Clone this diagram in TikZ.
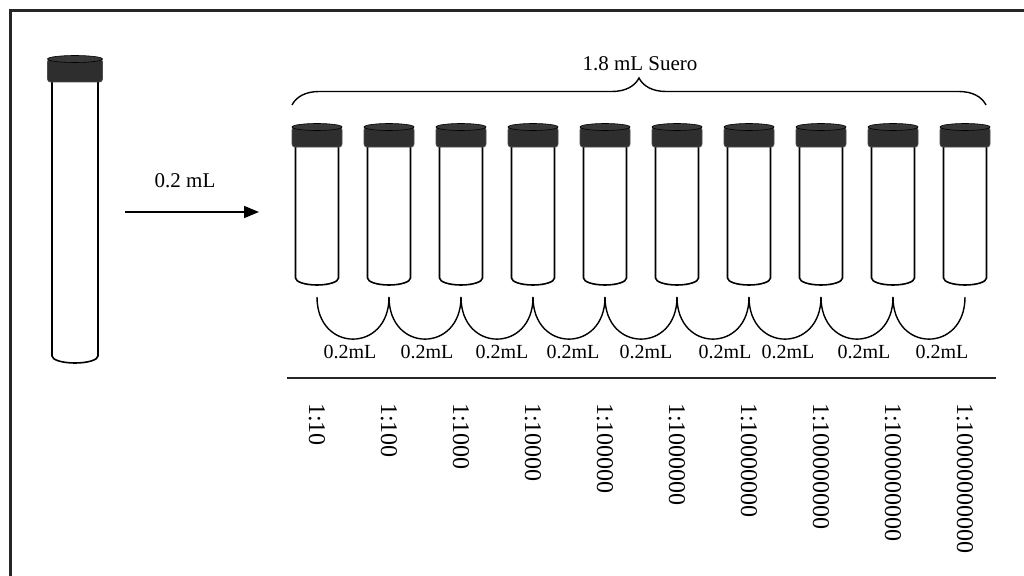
\documentclass[tikz,border=0pt]{standalone}
\usepackage{fontspec}
\setmainfont{Liberation Serif}
\usetikzlibrary{arrows.meta,decorations.pathreplacing}

\tikzset{
  frame/.style={draw=black!85, line width=3pt},
  tubebody/.style={draw=black, line width=1.6pt, fill=white},
  capbody/.style={draw=black!70, line width=0.8pt, fill=black!82, rounded corners=3pt},
  captop/.style={draw=black, line width=0.6pt, fill=black!78},
  scoop/.style={draw=black, line width=1.4pt},
  rule/.style={draw=black!85, line width=2.2pt},
  feed/.style={draw=black, line width=1.6pt, -{Triangle[length=15pt,width=12pt]}},
  bracket/.style={draw=black, line width=1.4pt, decorate,
    decoration={brace, amplitude=27pt, aspect=0.5}},
  steplab/.style={font=\fontsize{20}{24}\selectfont, inner sep=0pt},
  headlab/.style={font=\fontsize{21}{25}\selectfont, inner sep=0pt},
  ratiolab/.style={font=\fontsize{24}{28}\selectfont, inner sep=0pt, rotate=-90, anchor=west},
}

% #1 name, #2 centre x, #3 cap top, #4 cap bottom, #5 cap half width,
% #6 body half width, #7 bottom of the rounded end
\newcommand{\testtube}[7]{%
  \coordinate (#1) at (#2,-#3);
  \coordinate (#1-b) at (#2,-#7);
  \path[tubebody] (#2-#6,-#4+2) -- (#2-#6,-#7+7)
    arc[start angle=180, end angle=360, x radius=#6, y radius=7]
    -- (#2+#6,-#4+2);
  \path[capbody] (#2-#5,-#3-4) rectangle (#2+#5,-#4);
  \path[captop] (#2,-#3-4) ellipse[x radius=#5, y radius=3.5];
}

\begin{document}
\begin{tikzpicture}[x=1pt, y=1pt]
  \clip (0,0) rectangle (1024,-575);
  \fill[white] (0,0) rectangle (1024,-575);

  % outer frame, running off the right and bottom edges
  \draw[frame] (10,-600) -- (10,-10.5) -- (1040,-10.5);

  % stock tube
  \testtube{stock}{75}{55}{82}{27.5}{23}{363}

  % transfer arrow into the dilution series
  \coordinate (a0) at (125,-212);
  \coordinate (a1) at (259,-212);
  \draw[feed] (a0) -- (a1);
  \node[headlab] (vol) at (185,-181) {0.2 mL};

  % ten dilution tubes
  \foreach \i in {1,...,10}{
    \pgfmathsetmacro{\cx}{317+72*(\i-1)}
    \testtube{t\i}{\cx}{123}{147}{25}{21.5}{285}
    \coordinate (s\i) at (\cx,-297);
  }

  % serum brace over the series
  \coordinate (br1) at (292,-105);
  \coordinate (br2) at (986,-105);
  \draw[bracket] (br1) -- (br2);
  \node[headlab] (serum) at (640,-64) {1.8 mL Suero};

  % transfers between neighbouring tubes
  \foreach \i [evaluate=\i as \j using int(\i+1)] in {1,...,9}{
    \draw[scoop] (s\i) to[out=-90, in=-90, looseness=2] (s\j);
  }
  \foreach \x [count=\k] in {350,427,502,573,646,725,788,864,942}{
    \node[steplab] (v\k) at (\x,-352) {0.2mL};
  }

  % separator
  \coordinate (l1) at (287,-378);
  \coordinate (l2) at (996,-378);
  \draw[rule] (l1) -- (l2);

  % dilution factors
  \node[ratiolab] (r1) at (317,-403) {1:10};
  \node[ratiolab] (r2) at (389,-403) {1:100};
  \node[ratiolab] (r3) at (461,-403) {1:1000};
  \node[ratiolab] (r4) at (533,-403) {1:10000};
  \node[ratiolab] (r5) at (605,-403) {1:100000};
  \node[ratiolab] (r6) at (677,-403) {1:1000000};
  \node[ratiolab] (r7) at (749,-403) {1:10000000};
  \node[ratiolab] (r8) at (821,-403) {1:100000000};
  \node[ratiolab] (r9) at (893,-403) {1:1000000000};
  \node[ratiolab] (r10) at (965,-403) {1:10000000000};
\end{tikzpicture}
\end{document}
